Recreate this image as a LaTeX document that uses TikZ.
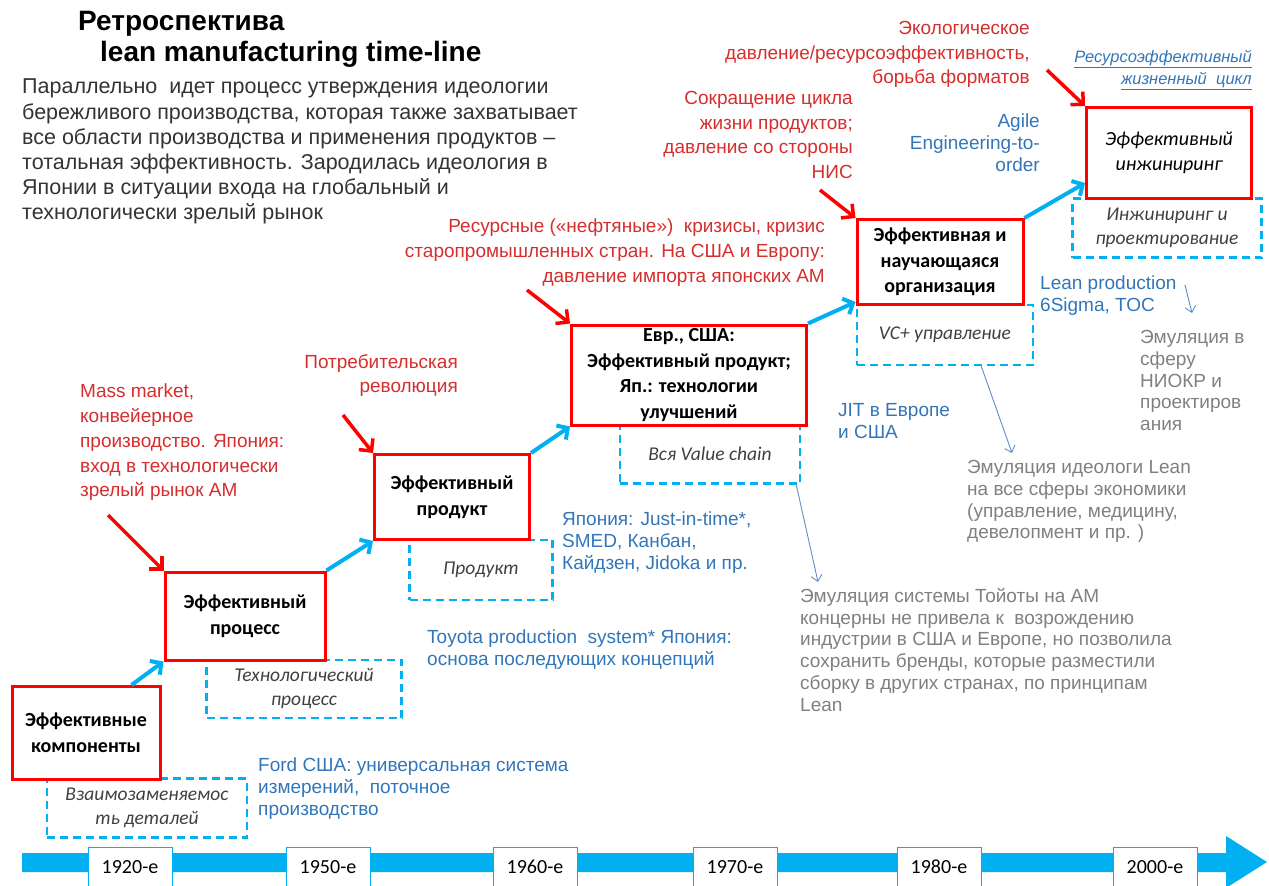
\documentclass[tikz,border=0pt]{standalone}
\usepackage{fontspec}
\setmainfont{Liberation Sans}
\newfontfamily\calib{Carlito}
\usetikzlibrary{positioning,arrows.meta}
\definecolor{boxred}{RGB}{255,0,0}
\definecolor{txtred}{RGB}{214,45,45}
\definecolor{txtblue}{RGB}{50,118,185}
\definecolor{txtgray}{RGB}{128,128,128}
\definecolor{lcyan}{RGB}{0,176,240}
\definecolor{thinblue}{RGB}{95,140,205}

\begin{document}
\begin{tikzpicture}[x=1pt,y=-1pt,
	mainbox/.style={draw=boxred, line width=3pt, fill=white, align=center, inner sep=0pt,
	font=\calib\bfseries\fontsize{20}{26}\selectfont},
	dbox/.style={draw=lcyan, line width=2.5pt, dash pattern=on 8pt off 5pt, align=center,
	inner sep=0pt, text=black!75, font=\calib\itshape\fontsize{19.5}{24}\selectfont},
	redtxt/.style={text=txtred, inner sep=0pt, font=\fontsize{19}{24.7}\selectfont},
	bluetxt/.style={text=txtblue, inner sep=0pt, font=\fontsize{19}{21.8}\selectfont},
	graytxt/.style={text=txtgray, inner sep=0pt, font=\fontsize{19}{21.8}\selectfont},
	yearbox/.style={draw=lcyan, line width=1pt, fill=white, minimum width=84pt,
	minimum height=42pt, anchor=north, inner sep=0pt, text height=14pt, text depth=4pt,
	font=\calib\fontsize{20}{22}\selectfont},
	barrow/.style={draw=lcyan, line width=4pt, -{Straight Barb[length=8pt,width=17pt]}},
	rarrow/.style={draw=boxred, line width=3.5pt, -{Straight Barb[length=9pt,width=18pt]}},
	tarrow/.style={draw=thinblue, line width=0.9pt, -{Straight Barb[length=6pt,width=11pt]}}
	]
	\useasboundingbox (0,0) rectangle (1269,886);
	
	\node[anchor=base west, inner sep=0pt, font=\bfseries\fontsize{28}{30}\selectfont] (title) at (78,30) {Ретроспектива};
	\node[anchor=base west, inner sep=0pt, font=\bfseries\fontsize{28}{30}\selectfont] (subtitle) at (100,61) {lean manufacturing time-line};
	\node[anchor=north west, align=left, inner sep=0pt, text=black!80, font=\fontsize{21.5}{25.2}\selectfont] (intro) at (22,79)
	{Параллельно\ \ идет процесс утверждения идеологии\\бережливого производства, которая также захватывает\\все области производства и применения продуктов –\\тотальная эффективность. Зародилась идеология в\\Японии в ситуации входа на глобальный и\\технологически зрелый рынок};
	
	\node[dbox, minimum width=200pt, minimum height=59pt] (d1) at (147,808) {Взаимозаменяемос\\ть деталей};
	\node[dbox, minimum width=195pt, minimum height=58pt] (d2) at (304,689) {Технологический\\процесс};
	\node[dbox, minimum width=143pt, minimum height=60pt] (d3) at (481,570) {Продукт};
	\node[dbox, minimum width=180pt, minimum height=59pt] (d4) at (710,454) {Вся Value chain};
	\node[dbox, minimum width=176pt, minimum height=60pt] (d5) at (945,335) {VC+ управление};
	\node[dbox, minimum width=189pt, minimum height=59pt] (d6) at (1167,228) {Инжиниринг и\\проектирование};
	
	\node[mainbox, minimum width=148pt, minimum height=93pt] (b1) at (86,733) {Эффективные\\компоненты};
	\node[mainbox, minimum width=160pt, minimum height=88pt] (b2) at (245,616) {Эффективный\\процесс};
	\node[mainbox, minimum width=155pt, minimum height=85pt] (b3) at (452,497) {Эффективный\\продукт};
	\node[mainbox, minimum width=235pt, minimum height=100pt, font=\calib\bfseries\fontsize{20}{25.5}\selectfont] (b4) at (689,375) {Евр., США:\\Эффективный продукт;\\Яп.: технологии\\улучшений};
	\node[mainbox, minimum width=166pt, minimum height=85pt, font=\calib\bfseries\fontsize{20}{25.5}\selectfont] (b5) at (940,262) {Эффективная и\\научающаяся\\организация};
	\node[mainbox, minimum width=165pt, minimum height=91pt, font=\calib\itshape\fontsize{20}{25}\selectfont] (b6) at (1169,153) {Эффективный\\инжиниринг};
	
	\draw[barrow] ([xshift=-30pt]b1.north east) -- (b2.south west);
	\draw[barrow] (b2.north east) -- (b3.south west);
	\draw[barrow] (b3.north east) -- (b4.south west);
	\draw[barrow] (b4.north east) -- ([yshift=4pt]b5.south west);
	\draw[barrow] (b5.north east) -- ([yshift=17pt]b6.south west);
	
	\node[redtxt, anchor=north west, align=left] (massmkt) at (80,384) {Mass market,\\конвейерное\\производство. Япония:\\вход в технологически\\зрелый рынок АМ};
	\node[redtxt, anchor=north east, align=right] (consrev) at (458,354) {Потребительская\\революция};
	\node[redtxt, anchor=north east, align=right] (oilcris) at (825,219) {Ресурсные («нефтяные»)\ \ кризисы, кризис\\старопромышленных стран. На США и Европу:\\давление импорта японских АМ};
	\node[redtxt, anchor=north east, align=right] (lifecyc) at (853,91) {Сокращение цикла\\жизни продуктов;\\давление со стороны\\НИС};
	\node[redtxt, anchor=north east, align=right] (ecopress) at (1030,21) {Экологическое\\давление/ресурсоэффективность,\\борьба форматов};
	
	\coordinate (r1) at (108,515);
	\coordinate (r2) at (343,415);
	\coordinate (r3) at (527,290);
	\coordinate (r4) at (820,190);
	\coordinate (r5) at (1047,70);
	\draw[rarrow] (r1) -- (b2.north west);
	\draw[rarrow] (r2) -- (b3.north west);
	\draw[rarrow] (r3) -- (b4.north west);
	\draw[rarrow] (r4) -- (b5.north west);
	\draw[rarrow] (r5) -- (b6.north west);
	
	\node[bluetxt, anchor=north west, align=left] (ford) at (258,758) {Ford США: универсальная система\\измерений,\ \ поточное\\производство};
	\node[bluetxt, anchor=north west, align=left] (toyota) at (427,630) {Toyota production\ \ system* Япония:\\основа последующих концепций};
	\node[bluetxt, anchor=north west, align=left] (jitjp) at (562,512) {Япония: Just-in-time*,\\SMED, Канбан,\\Кайдзен, Jidoka и пр.};
	\node[bluetxt, anchor=north west, align=left] (jiteu) at (838,403) {JIT в Европе\\и США};
	\node[bluetxt, anchor=north east, align=right] (agile) at (1040,114) {Agile\\Engineering-to-\\order};
	\node[bluetxt, anchor=north west, align=left] (leanprod) at (1040,276) {Lean production\\6Sigma, TOC};
	\node[bluetxt, anchor=north east, align=right, font=\itshape\fontsize{16.5}{22}\selectfont] (reslc) at (1252,50) {\underline{Ресурсоэффективный}\\\underline{жизненный\ \ цикл}};
	
	\node[graytxt, anchor=north west, align=left] (emrd) at (1140,330) {Эмуляция в\\сферу\\НИОКР и\\проектиров\\ания};
	\node[graytxt, anchor=north west, align=left] (emall) at (967,460) {Эмуляция идеологи Lean\\на все сферы экономики\\(управление, медицину,\\девелопмент и пр. )};
	\node[graytxt, anchor=north west, align=left] (emtoy) at (800,588) {Эмуляция системы Тойоты на АМ\\концерны не привела к\ \ возрождению\\индустрии в США и Европе, но позволила\\сохранить бренды, которые разместили\\сборку в других странах, по принципам\\Lean};
	
	\coordinate (t3) at (1185,285);
	\draw[tarrow] ([xshift=-5pt]d4.south east) -- ([xshift=18pt,yshift=6pt]emtoy.north west);
	\draw[tarrow] ([xshift=-53pt]d5.south east) -- ([xshift=45pt,yshift=7pt]emall.north west);
	\draw[tarrow] (t3) -- ([xshift=52pt,yshift=17pt]emrd.north west);
	
	\fill[lcyan] (22,853) -- (1226,853) -- (1226,836) -- (1267,862) -- (1226,888) -- (1226,872) -- (22,872) -- cycle;
	\foreach \xpos/\yr in {130/1920,328/1950,535/1960,735/1970,939/1980,1155/2000}
	\node[yearbox] (y\yr) at (\xpos,847) {\yr-е};
\end{tikzpicture}
\end{document}
